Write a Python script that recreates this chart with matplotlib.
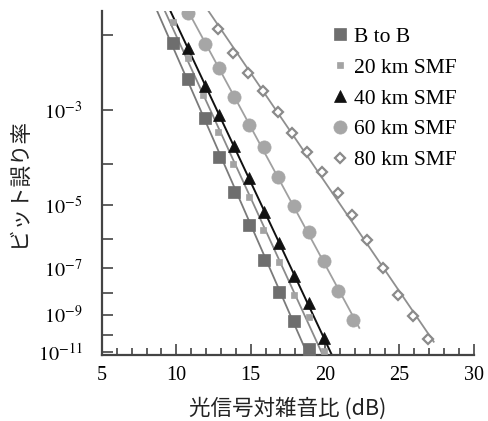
import numpy as np
import matplotlib
matplotlib.use("Agg")
import matplotlib.pyplot as plt
from matplotlib.ticker import FixedLocator, FixedFormatter, MultipleLocator

plt.rcParams['mathtext.fontset'] = 'stix'
plt.rcParams['font.family'] = ['Liberation Serif', 'DejaVu Serif']

# ---- data: OSNR (dB) and -log10(BER) ----
b2b_x = [9.8, 10.8, 11.9, 12.9, 13.9, 14.9, 15.9, 16.9, 17.9, 18.9]
b2b_nlog = [2.09, 2.54, 3.13, 3.85, 4.66, 5.56, 6.70, 7.94, 9.31, 10.80]

km20_x = [9.8, 10.8, 11.8, 12.8, 13.8, 14.9, 15.8, 16.9, 17.9, 18.9, 19.9]
km20_nlog = [1.87, 2.26, 2.76, 3.37, 4.00, 4.79, 5.71, 6.77, 8.07, 9.12, 10.92]

km40_x = [10.8, 11.9, 12.9, 13.9, 14.9, 15.9, 16.9, 17.9, 18.9, 19.9]
km40_nlog = [2.15, 2.63, 3.08, 3.63, 4.31, 5.19, 6.12, 7.29, 8.42, 10.19]

km60_x = [10.8, 11.9, 12.9, 13.9, 14.9, 15.9, 16.8, 17.9, 18.9, 19.9, 20.9, 21.9]
km60_nlog = [1.78, 2.10, 2.39, 2.80, 3.25, 3.65, 4.28, 5.02, 5.77, 6.73, 7.90, 9.26]

km80_x = [12.8, 13.8, 14.8, 15.8, 16.8, 17.8, 18.8, 19.8, 20.9, 21.8, 22.8,
          23.9, 24.9, 25.9, 26.9]
km80_nlog = [1.94, 2.20, 2.45, 2.70, 3.02, 3.39, 3.75, 4.17, 4.67, 5.27, 6.02,
             6.99, 8.07, 9.07, 10.25]

labels = ["B to B", "20 km SMF", "40 km SMF", "60 km SMF", "80 km SMF"]
fit_ranges = [(7.0, 21.0), (7.0, 21.0), (8.0, 21.0), (8.0, 22.3), (10.0, 27.3)]

ytick_exps = [2, 3, 4, 5, 6, 7, 8, 9, 10, 11]
ytick_labels = ["", r"$10^{-3}$", "", r"$10^{-5}$", "", r"$10^{-7}$", "",
                r"$10^{-9}$", "", r"$10^{-11}$"]


def fwd(y):
    y = np.clip(np.asarray(y, dtype=float), 1e-300, 0.999999)
    return -np.log10(-np.log10(y))


def inv(t):
    t = np.asarray(t, dtype=float)
    return 10.0 ** (-(10.0 ** (-t)))


fig = plt.figure(figsize=(4.88, 4.21), dpi=100)
ax = fig.add_axes([0.209, 0.157, 0.762, 0.817])
ax.set_yscale('function', functions=(fwd, inv))

styles = [
    dict(marker='s', ms=8, mfc='#6e6e6e', mec='#6e6e6e', lc='#7a7a7a', lw=1.3),
    dict(marker='s', ms=4.8, mfc='#a3a3a3', mec='#a3a3a3', lc='#8a8a8a', lw=1.3),
    dict(marker='^', ms=8.5, mfc='#111111', mec='#111111', lc='#111111', lw=1.4),
    dict(marker='o', ms=9.5, mfc='#a6a6a6', mec='#a6a6a6', lc='#a0a0a0', lw=1.3),
    dict(marker='D', ms=5.5, mfc='white', mec='#8a8a8a', lc='#8f8f8f', lw=1.3),
]

series = [(b2b_x, b2b_nlog), (km20_x, km20_nlog), (km40_x, km40_nlog),
          (km60_x, km60_nlog), (km80_x, km80_nlog)]

handles = []
for (xs, nl), st, lab, (x0, x1) in zip(series, styles, labels, fit_ranges):
    xs = np.array(xs)
    ber = 10.0 ** (-np.array(nl))
    t = fwd(ber)
    k, b = np.polyfit(xs, t, 1)
    xx = np.linspace(x0, x1, 200)
    ax.plot(xx, inv(k * xx + b), color=st['lc'], lw=st['lw'], zorder=2)
    mew = 1.6 if st['marker'] == 'D' else 0.5
    h, = ax.plot(xs, ber, ls='none', marker=st['marker'], ms=st['ms'],
                 mfc=st['mfc'], mec=st['mec'], mew=mew, zorder=3, label=lab)
    handles.append(h)

ax.set_xlim(5, 30)
ax.set_ylim(10 ** -11.15, 10 ** -1.76)

ax.yaxis.set_major_locator(FixedLocator([10.0 ** -e for e in ytick_exps]))
ax.yaxis.set_major_formatter(FixedFormatter(ytick_labels))
ax.yaxis.set_minor_locator(FixedLocator([]))
ax.xaxis.set_major_locator(MultipleLocator(5))
ax.xaxis.set_minor_locator(MultipleLocator(1))

for s in ['top', 'right']:
    ax.spines[s].set_visible(False)
for s in ['left', 'bottom']:
    ax.spines[s].set_color('#444444')
    ax.spines[s].set_linewidth(1.6)

ax.tick_params(axis='both', which='major', direction='in', length=8,
               width=1.2, color='#444444', labelsize=14.5)
ax.tick_params(axis='x', which='major', pad=8)
ax.tick_params(axis='y', which='major', pad=14)
ax.tick_params(axis='x', which='minor', direction='in', length=5,
               width=1.2, color='#444444')

jp = ['Noto Sans CJK JP', 'DejaVu Sans']
ax.set_ylabel("ビット誤り率", family=jp, fontsize=15.5, color='#222222', labelpad=6)
ax.set_xlabel("光信号対雑音比 (dB)", family=jp, fontsize=15.5, color='#222222', labelpad=9)

leg = ax.legend(handles=handles, loc='upper left', bbox_to_anchor=(0.588, 0.985),
                frameon=False, fontsize=15.5, handlelength=0.8, handletextpad=0.25,
                labelspacing=0.5, borderpad=0)

fig.savefig("out.png", dpi=100)
